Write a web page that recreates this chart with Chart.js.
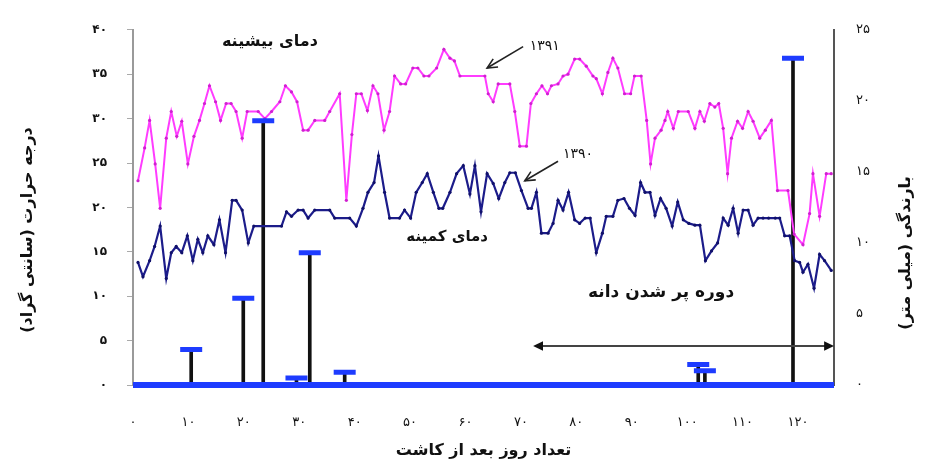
<!DOCTYPE html>
<html><head><meta charset="utf-8">
<script src="https://cdn.jsdelivr.net/npm/chart.js@4.4.1/dist/chart.umd.min.js"></script>
<style>html,body{margin:0;padding:0;background:#fff;}canvas{display:block;}</style>
</head><body>
<canvas id="c" width="925" height="468"></canvas>
<script>
// ---- data ----
const maxDays = [0.9,2.1,3.0,4.0,4.9,6.0,6.9,7.9,8.8,9.9,11.0,12.0,12.9,13.8,14.9,15.8,16.8,17.7,18.6,19.7,20.6,22.6,23.8,25.0,26.5,27.5,28.6,29.6,30.7,31.6,32.8,34.6,35.5,37.3,38.5,39.5,40.3,41.2,42.3,43.3,44.2,45.3,46.3,47.2,48.3,49.2,50.5,51.4,52.5,53.4,54.8,56.1,57.2,58.0,59.0,63.5,64.1,65.0,65.9,68.0,68.9,69.8,71.0,71.8,72.8,73.8,74.8,75.5,76.7,77.6,78.5,79.7,80.6,81.8,83.0,83.6,84.7,85.7,86.6,87.5,88.7,89.8,90.5,91.7,92.7,93.4,94.2,95.3,96.0,96.5,97.5,98.4,100.2,101.4,102.3,103.1,104.1,105.0,105.7,106.5,107.3,108.0,109.1,110.0,111.0,111.9,113.1,114.1,115.2,116.3,118.2,119.3,120.9,122.1,122.7,123.9,125.1,126.0];
const maxTemps = [23.0,26.7,29.8,24.9,19.9,27.8,30.8,28.0,29.7,24.9,28.0,29.8,31.7,33.7,31.9,29.8,31.7,31.7,30.8,27.8,30.8,30.8,30.0,30.8,31.9,33.7,33.0,31.9,28.7,28.7,29.8,29.8,30.8,32.8,20.8,28.2,32.8,32.8,30.9,33.7,32.8,28.7,30.8,34.8,33.9,33.9,35.7,35.7,34.8,34.8,35.7,37.8,36.8,36.5,34.8,34.8,32.8,31.9,33.9,33.9,30.8,26.9,26.9,31.7,32.8,33.7,32.8,33.7,33.9,34.8,35.0,36.7,36.7,35.9,34.8,34.5,32.8,35.2,36.8,35.7,32.8,32.8,34.8,34.8,29.8,24.9,27.8,28.7,29.8,30.8,28.9,30.8,30.8,28.9,30.8,29.7,31.7,31.3,31.7,28.9,23.8,27.8,29.7,28.9,30.8,29.7,27.8,28.7,29.8,21.9,21.9,17.0,15.8,19.3,23.8,19.0,23.8,23.8];

const minDays = [0.9,1.8,3.0,3.9,4.9,6.0,6.9,7.8,8.8,9.8,10.8,11.7,12.6,13.5,14.6,15.6,16.7,17.9,18.6,19.7,20.8,21.8,26.8,27.7,28.6,29.8,30.7,31.6,32.8,35.5,36.4,39.1,40.3,41.5,42.4,43.5,44.3,45.4,46.3,48.1,49.0,50.1,51.1,52.2,53.1,54.2,55.2,55.9,57.2,58.4,59.6,60.8,61.7,62.8,63.9,65.0,66.0,67.1,68.0,69.0,70.1,71.3,71.9,72.8,73.7,74.9,75.8,76.7,77.6,78.6,79.7,80.6,81.6,82.5,83.6,84.7,85.4,86.6,87.5,88.6,89.6,90.6,91.6,92.4,93.3,94.2,95.2,96.2,97.3,98.3,99.3,100.3,101.4,102.3,103.3,104.4,105.5,106.5,107.4,108.3,109.2,110.1,111.0,111.9,112.8,113.7,114.7,115.9,116.7,117.6,118.5,119.4,120.3,120.9,121.8,122.9,123.9,124.8,126.0];
const minTemps = [13.8,12.2,14.0,15.6,17.9,12.0,14.9,15.6,14.9,16.8,14.0,16.4,14.9,16.8,15.8,18.6,14.9,20.8,20.8,19.7,16.0,17.9,17.9,19.5,19.0,19.7,19.7,18.8,19.7,19.7,18.8,18.8,17.9,19.9,21.7,22.8,25.8,21.7,18.8,18.8,19.7,18.8,21.7,22.8,23.8,21.7,19.9,19.9,21.7,23.8,24.7,21.5,24.7,19.5,23.8,22.7,21.0,22.8,23.9,23.9,21.9,19.9,19.9,21.7,17.1,17.1,18.2,20.8,19.7,21.7,18.6,18.2,18.8,18.8,14.9,17.1,19.0,19.0,20.8,21.0,19.9,19.1,22.8,21.7,21.7,19.1,21.0,19.9,17.9,20.6,18.6,18.2,18.0,18.0,14.0,15.1,16.0,18.8,18.0,19.9,17.1,19.7,19.7,18.0,18.8,18.8,18.8,18.8,18.8,16.8,16.8,14.0,13.8,12.7,13.6,10.9,14.7,14.0,12.9];

const rainDays   = [10.5, 19.9, 23.5, 29.5, 31.9, 38.2, 102.0, 103.2, 119.1];
const rainValues = [2.5, 6.1, 18.6, 0.5, 9.3, 0.9, 1.45, 1.0, 23.0];

const dayRange  = [0, 126.5];
const tempRange = [0, 40];
const rainRange = [0, 25];

// annotation anchors (in data units: day, temperature)
const labelMax   = {text: 'دمای بیشینه', day: 24.7, t: 38.7};
const labelMin   = {text: 'دمای کمینه', day: 56.7, t: 16.7};
const labelGrain = {text: 'دوره پر شدن دانه', day: 95.3, t: 10.4};
const label1391  = {text: '۱۳۹۱', day: 74.3, t: 38.1, from: [70.4, 38.1], to: [63.9, 35.7]};
const label1390  = {text: '۱۳۹۰', day: 80.3, t: 26.0, from: [76.7, 25.2], to: [70.7, 23.0]};
const grainSpan  = {from: 72.2, to: 126.5, t: 4.4};

const xTitle  = 'تعداد روز بعد از کاشت';
const yTitle  = 'درجه حرارت (سانتی گراد)';
const y2Title = 'بارندگی (میلی متر)';

const fa = v => String(v).replace(/\d/g, d => '۰۱۲۳۴۵۶۷۸۹'[d]);
const FONT = "'DejaVu Sans', sans-serif";

function arrowHead(ctx, x1, y1, x2, y2, size, filled) {
  const a = Math.atan2(y2 - y1, x2 - x1);
  const p1 = [x2 - size * Math.cos(a - 0.45), y2 - size * Math.sin(a - 0.45)];
  const p2 = [x2 - size * Math.cos(a + 0.45), y2 - size * Math.sin(a + 0.45)];
  ctx.beginPath();
  if (filled) {
    ctx.moveTo(x2, y2); ctx.lineTo(p1[0], p1[1]); ctx.lineTo(p2[0], p2[1]); ctx.closePath(); ctx.fill();
  } else {
    ctx.moveTo(p1[0], p1[1]); ctx.lineTo(x2, y2); ctx.lineTo(p2[0], p2[1]); ctx.stroke();
  }
}

const annot = {
  id: 'annot',
  afterDatasetsDraw(chart) {
    const ctx = chart.ctx, xs = chart.scales.x, ys = chart.scales.y;
    const X = d => xs.getPixelForValue(d), Y = t => ys.getPixelForValue(t);
    ctx.save();
    ctx.direction = 'rtl';
    ctx.textAlign = 'center';
    ctx.textBaseline = 'middle';
    ctx.fillStyle = '#111';
    ctx.font = 'bold 16px ' + FONT;
    ctx.fillText(labelMax.text, X(labelMax.day), Y(labelMax.t));
    ctx.font = 'bold 15px ' + FONT;
    ctx.fillText(labelMin.text, X(labelMin.day), Y(labelMin.t));
    ctx.font = 'bold 17px ' + FONT;
    ctx.fillText(labelGrain.text, X(labelGrain.day), Y(labelGrain.t));
    ctx.font = '14px ' + FONT;
    ctx.fillText(label1391.text, X(label1391.day), Y(label1391.t));
    ctx.fillText(label1390.text, X(label1390.day), Y(label1390.t));
    // pointer arrows
    ctx.strokeStyle = '#222'; ctx.lineWidth = 1.6;
    for (const l of [label1391, label1390]) {
      const x1 = X(l.from[0]), y1 = Y(l.from[1]), x2 = X(l.to[0]), y2 = Y(l.to[1]);
      ctx.beginPath(); ctx.moveTo(x1, y1); ctx.lineTo(x2, y2); ctx.stroke();
      arrowHead(ctx, x1, y1, x2, y2, 11, false);
    }
    // grain-filling span double arrow
    const gy = Y(grainSpan.t), gx1 = X(grainSpan.from), gx2 = X(grainSpan.to);
    ctx.strokeStyle = '#444'; ctx.fillStyle = '#111'; ctx.lineWidth = 2;
    ctx.beginPath(); ctx.moveTo(gx1 + 6, gy); ctx.lineTo(gx2 - 6, gy); ctx.stroke();
    arrowHead(ctx, gx2, gy, gx1, gy, 11, true);
    arrowHead(ctx, gx1, gy, gx2, gy, 11, true);
    // axis titles
    ctx.fillStyle = '#111';
    ctx.font = 'bold 16px ' + FONT;
    ctx.fillText(xTitle, (chart.chartArea.left + chart.chartArea.right) / 2, 451);
    ctx.save();
    ctx.translate(28, 230); ctx.rotate(-Math.PI / 2);
    ctx.font = 'bold 16px ' + FONT;
    ctx.fillText(yTitle, 0, 0);
    ctx.restore();
    ctx.save();
    ctx.translate(906, 253); ctx.rotate(-Math.PI / 2);
    ctx.font = 'bold 16px ' + FONT;
    ctx.fillText(y2Title, 0, 0);
    ctx.restore();
    ctx.restore();
  }
};

const pts = (xs, ys) => xs.map((d, i) => ({x: d, y: ys[i]}));

new Chart(document.getElementById('c'), {
  type: 'line',
  data: {
    datasets: [
      {
        type: 'line', label: 'zero rain', yAxisID: 'y2',
        data: [{x: dayRange[0], y: 0}, {x: dayRange[1], y: 0}],
        borderColor: '#1e3cff', borderWidth: 6, pointRadius: 0, clip: false, order: 0
      },
      {
        type: 'scatter', label: 'rain caps', yAxisID: 'y2',
        data: pts(rainDays, rainValues),
        pointStyle: 'line', pointRadius: 11, pointBorderWidth: 5,
        borderColor: '#1e3cff', backgroundColor: '#1e3cff', showLine: false, order: 0
      },
      {
        type: 'line', label: 'دمای بیشینه', yAxisID: 'y',
        data: pts(maxDays, maxTemps),
        borderColor: '#ff3cff', borderWidth: 2, tension: 0,
        pointRadius: 1.6, pointBackgroundColor: '#d020d0', pointBorderWidth: 0, order: 1
      },
      {
        type: 'line', label: 'دمای کمینه', yAxisID: 'y',
        data: pts(minDays, minTemps),
        borderColor: '#1c1c8a', borderWidth: 2.2, tension: 0,
        pointRadius: 1.6, pointBackgroundColor: '#10106a', pointBorderWidth: 0, order: 1
      },
      {
        type: 'bar', label: 'بارندگی', yAxisID: 'y2',
        data: pts(rainDays, rainValues),
        backgroundColor: '#111', barThickness: 3, order: 3
      }
    ]
  },
  options: {
    responsive: false,
    animation: false,
    layout: {padding: {top: 23, left: 0, right: 0, bottom: 0}},
    plugins: {legend: {display: false}, tooltip: {enabled: false}},
    scales: {
      x: {
        type: 'linear', min: dayRange[0], max: dayRange[1], offset: false,
        grid: {display: false, drawTicks: false},
        border: {display: false},
        ticks: {
          stepSize: 10, autoSkip: false, maxRotation: 0, includeBounds: false, padding: 30,
          color: '#111', font: {family: FONT, size: 13},
          callback: v => (v % 10 === 0 && v <= 120) ? fa(v) : ''
        },
        afterFit: s => { s.height = 468 - 385; }
      },
      y: {
        position: 'left', min: tempRange[0], max: tempRange[1],
        grid: {drawOnChartArea: false, drawTicks: true, tickLength: 6, color: '#aaa'},
        border: {display: true, color: '#9a9a9a', width: 2},
        ticks: {stepSize: 5, padding: 20, color: '#111', font: {family: FONT, size: 12, weight: 'bold'}, callback: v => fa(v)},
        afterFit: s => { s.width = 133; }
      },
      y2: {
        position: 'right', min: rainRange[0], max: rainRange[1],
        grid: {drawOnChartArea: false, drawTicks: false},
        border: {display: true, color: '#555', width: 2},
        ticks: {stepSize: 5, padding: 22, color: '#111', font: {family: FONT, size: 13}, callback: v => fa(v)},
        afterFit: s => { s.width = 925 - 834; }
      }
    }
  },
  plugins: [annot]
});
</script>
</body></html>
